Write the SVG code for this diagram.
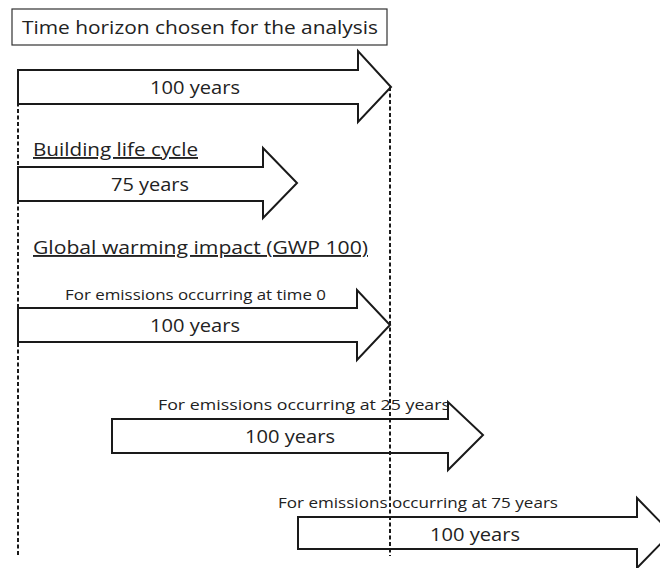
<svg xmlns="http://www.w3.org/2000/svg" width="660" height="568" viewBox="0 0 660 568">
  <defs>
    <style>
      .arrow { fill: #fff; stroke: #1a1a1a; stroke-width: 2; stroke-linejoin: miter; }
      .guide { fill: none; stroke: #1a1a1a; stroke-width: 2; stroke-dasharray: 4 2.5; }
      .frame { fill: #fff; stroke: #333; stroke-width: 1.2; }
      text { font-family: "Open Sans", "Liberation Sans", sans-serif; fill: #222; }
      .title { font-size: 19px; }
      .head { font-size: 19px; text-decoration: underline; }
      .dur { font-size: 19px; text-anchor: middle; }
      .cap { font-size: 15px; }
    </style>
  </defs>

  <rect width="660" height="568" fill="#fff"/>

  <!-- title box -->
  <g id="title">
    <rect class="frame" x="12" y="9" width="375" height="36"/>
    <text class="title" x="22" y="34" textLength="356" lengthAdjust="spacingAndGlyphs">Time horizon chosen for the analysis</text>
  </g>

  <!-- 100-year analysis horizon -->
  <g id="horizon">
    <path class="arrow" d="M18 70 H358 V51 L391 87 L358 122 V104 H18 Z"/>
    <text class="dur" x="195" y="94" textLength="90" lengthAdjust="spacingAndGlyphs">100 years</text>
  </g>

  <!-- building life cycle -->
  <g id="lifecycle">
    <text class="head" x="33" y="156" textLength="165" lengthAdjust="spacingAndGlyphs">Building life cycle</text>
    <path class="arrow" d="M18 167 H263 V148 L297 183 L263 218 V201 H18 Z"/>
    <text class="dur" x="150" y="191" textLength="78" lengthAdjust="spacingAndGlyphs">75 years</text>
  </g>

  <g id="gwp-heading">
    <text class="head" x="33" y="254" textLength="335" lengthAdjust="spacingAndGlyphs">Global warming impact (GWP 100)</text>
  </g>

  <!-- emissions at time 0 -->
  <g id="emission-0">
    <text class="cap" x="65" y="300" textLength="261" lengthAdjust="spacingAndGlyphs">For emissions occurring at time 0</text>
    <path class="arrow" d="M18 308 H357 V290 L390 325 L357 360 V342 H18 Z"/>
    <text class="dur" x="195" y="332" textLength="90" lengthAdjust="spacingAndGlyphs">100 years</text>
  </g>

  <!-- emissions at 25 years -->
  <g id="emission-25">
    <text class="cap" x="158" y="410" textLength="292" lengthAdjust="spacingAndGlyphs">For emissions occurring at 25 years</text>
    <path class="arrow" d="M112 419 H448 V402 L483 435 L448 470 V453 H112 Z"/>
    <text class="dur" x="290" y="443" textLength="90" lengthAdjust="spacingAndGlyphs">100 years</text>
  </g>

  <!-- emissions at 75 years -->
  <g id="emission-75">
    <text class="cap" x="278" y="508" textLength="280" lengthAdjust="spacingAndGlyphs">For emissions occurring at 75 years</text>
    <path class="arrow" d="M298 517 H637 V498 L671 533 L637 568 V549 H298 Z"/>
    <text class="dur" x="475" y="541" textLength="90" lengthAdjust="spacingAndGlyphs">100 years</text>
  </g>

  <!-- dashed guides at time 0 and end of horizon -->
  <g id="connectors">
    <line class="guide" x1="18" y1="70" x2="18" y2="556"/>
    <line class="guide" x1="390" y1="87" x2="390" y2="556"/>
  </g>
</svg>
